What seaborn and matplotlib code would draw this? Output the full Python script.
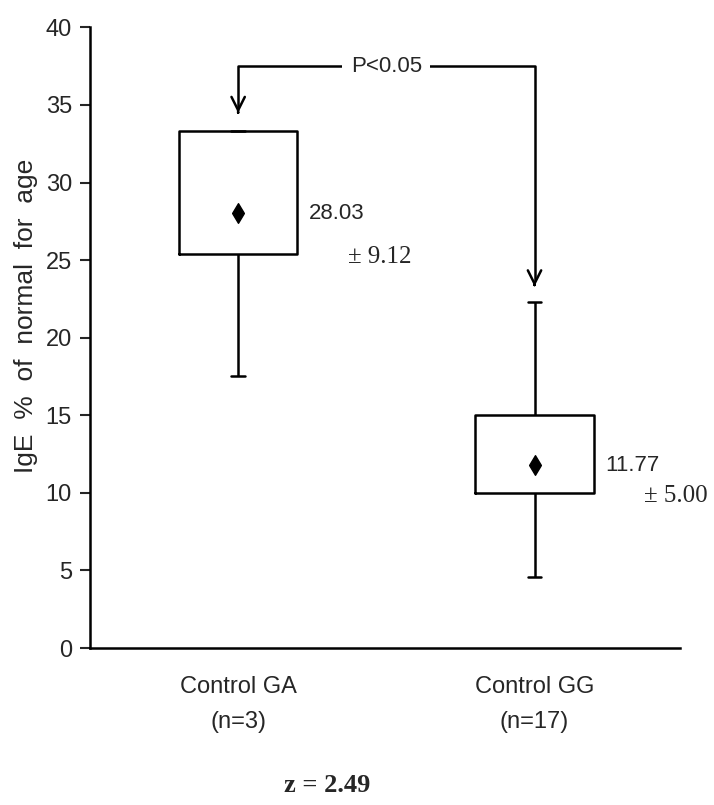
import pandas as pd
import numpy as np
import seaborn as sns
import matplotlib.pyplot as plt

groups = ['Control GA\n(n=3)', 'Control GG\n(n=17)']
whisker_low = [17.5, 4.6]
q1 = [25.4, 10.0]
median = [28.0, 12.0]
q3 = [33.3, 15.0]
whisker_high = [33.3, 22.3]
means = [28.03, 11.77]
sds = [9.12, 5.00]

sns.set_style('white')
plt.rcParams['font.family'] = ['Liberation Sans', 'DejaVu Sans']

# five-number values per group -> long table for seaborn
rows = []
for i, g in enumerate(groups):
    for v in [whisker_low[i], q1[i], median[i], q3[i], whisker_high[i]]:
        rows.append({'group': g, 'value': v})
df = pd.DataFrame(rows)

fig = plt.figure(figsize=(7.14, 8.05), dpi=100)
ax = fig.add_axes([0.126, 0.195, 0.826, 0.771])

sns.boxplot(data=df, x='group', y='value', order=groups, width=0.4,
            fill=False, color='black', linewidth=1.8, whis=1.5,
            medianprops={'linewidth': 0}, showfliers=False,
            capwidths=0.045, ax=ax)

ax.scatter(range(len(groups)), means, marker='d', s=100, color='black', zorder=5)

for i in range(len(groups)):
    ax.text(i + 0.24, means[i], '%.2f' % means[i], fontsize=16, va='center', ha='left')
    ax.text(i + 0.37, q1[i] - 0.2, '± %.2f' % sds[i], fontsize=18, va='center', ha='left',
            family='Liberation Serif')

# significance bracket
top = 37.5
ax.plot([0, 0, 1, 1], [top - 2.6, top, top, top - 13.8], color='black', lw=1.8)
ax.annotate('', xy=(0, q3[0] + 1.0), xytext=(0, top - 2.8),
            arrowprops=dict(arrowstyle='->', color='black', lw=1.8, mutation_scale=24))
ax.annotate('', xy=(1, whisker_high[1] + 1.0), xytext=(1, top - 13.9),
            arrowprops=dict(arrowstyle='->', color='black', lw=1.8, mutation_scale=24))
ax.text(0.5, top, 'P<0.05', fontsize=16, ha='center', va='center',
        bbox=dict(facecolor='white', edgecolor='none', pad=6))

ax.set_ylim(0, 40)
ax.set_xlim(-0.5, 1.49)
ax.set_yticks(np.arange(0, 41, 5))
ax.tick_params(axis='y', direction='out', length=7, width=1.5, labelsize=17, left=True, pad=6)
ax.tick_params(axis='x', length=0, labelsize=17, pad=20)
for lab in ax.get_xticklabels():
    lab.set_linespacing(1.75)
ax.set_xlabel('')
ax.set_ylabel('IgE  %  of  normal  for  age', fontsize=19)
ax.yaxis.set_label_coords(-0.088, 0.535)
sns.despine(ax=ax)
for s in ['left', 'bottom']:
    ax.spines[s].set_linewidth(1.8)
    ax.spines[s].set_color('black')

fig.text(0.458, 0.01, 'z = 2.49', fontsize=19, fontweight='bold', ha='center',
         va='bottom', family='Liberation Serif')

fig.savefig('out.png', dpi=100)
